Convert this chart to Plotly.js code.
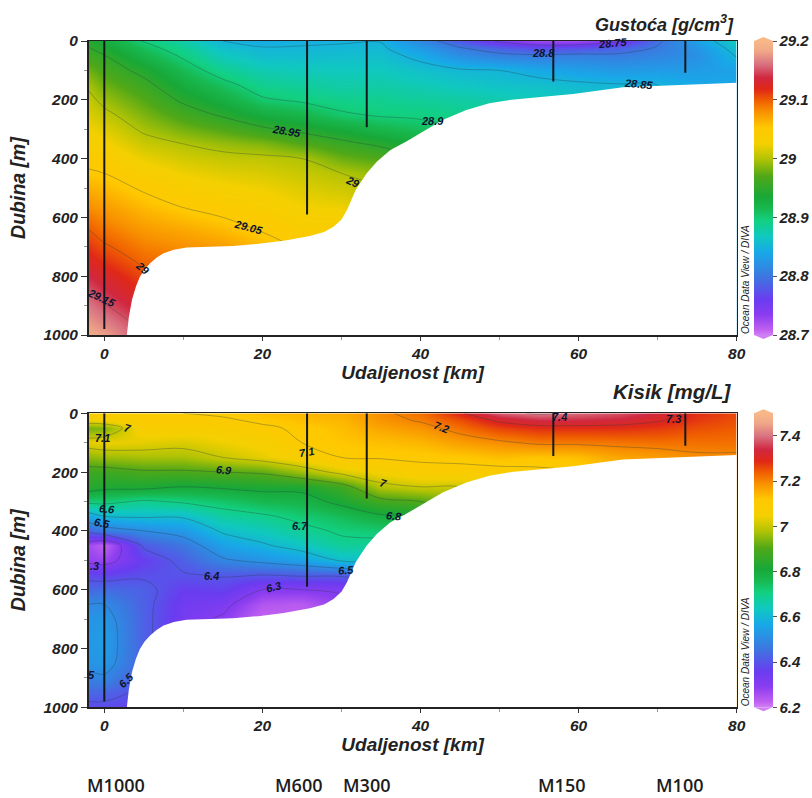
<!DOCTYPE html>
<html><head><meta charset="utf-8">
<script src="https://cdn.plot.ly/plotly-3.0.1.min.js"></script>
<style>html,body{margin:0;padding:0;background:#fff}#c{width:812px;height:798px}</style>
</head><body><div id="c"></div>
<script>
const distanceKm=[-2,0,5,10,15,20,25,30,35,40,45,50,55,60,65,70,75,80];
const depthM=[0,25,50,100,150,200,250,300,350,400,450,500,550,600,650,700,750,800,850,900,950,1000];
const densityByDistance=[
[28.945,28.952,28.961,28.979,28.996,29.007,29.016,29.025,29.034,29.043,29.053,29.065,29.077,29.09,29.102,29.114,29.126,29.138,29.151,29.163,29.175,29.187],
[28.93,28.94,28.951,28.965,28.979,28.993,29.006,29.017,29.028,29.039,29.05,29.06,29.071,29.081,29.092,29.103,29.115,29.128,29.14,29.152,29.165,29.18],
[28.898,28.91,28.921,28.942,28.958,28.971,28.984,28.996,29.009,29.022,29.034,29.047,29.057,29.067,29.077,29.087,29.096,29.106,29.117,29.128,29.14,29.15],
[28.878,28.887,28.896,28.913,28.929,28.945,28.963,28.981,29.0,29.012,29.023,29.035,29.046,29.058,29.07,29.08,29.09,29.1,29.11,29.12,29.13,29.14],
[28.85,28.86,28.869,28.888,28.908,28.927,28.946,28.969,28.992,29.007,29.017,29.028,29.039,29.05,29.062,29.074,29.085,29.095,29.105,29.115,29.125,29.135],
[28.842,28.852,28.858,28.873,28.888,28.903,28.929,28.954,28.985,29.005,29.014,29.023,29.032,29.041,29.05,29.06,29.07,29.08,29.09,29.1,29.11,29.12],
[28.846,28.852,28.857,28.87,28.883,28.896,28.919,28.943,28.971,29.0,29.008,29.016,29.023,29.031,29.039,29.047,29.055,29.06,29.065,29.07,29.075,29.08],
[28.848,28.853,28.858,28.868,28.878,28.89,28.903,28.931,28.957,28.979,29.0,29.01,29.02,29.03,29.04,29.045,29.05,29.05,29.05,29.05,29.05,29.05],
[28.849,28.854,28.859,28.868,28.878,28.888,28.897,28.918,28.945,28.97,28.99,29.0,29.01,29.02,29.03,29.04,29.04,29.04,29.04,29.04,29.04,29.04],
[28.815,28.83,28.843,28.86,28.872,28.884,28.895,28.91,28.93,28.95,28.97,28.98,28.99,29.0,29.0,29.0,29.0,29.0,29.0,29.0,29.0,29.0],
[28.78,28.803,28.82,28.853,28.866,28.88,28.89,28.9,28.91,28.92,28.93,28.94,28.95,28.95,28.95,28.95,28.95,28.95,28.95,28.95,28.95,28.95],
[28.745,28.785,28.808,28.85,28.862,28.875,28.885,28.89,28.9,28.91,28.92,28.92,28.92,28.92,28.92,28.92,28.92,28.92,28.92,28.92,28.92,28.92],
[28.725,28.77,28.805,28.84,28.86,28.87,28.88,28.89,28.9,28.9,28.9,28.9,28.9,28.9,28.9,28.9,28.9,28.9,28.9,28.9,28.9,28.9],
[28.725,28.775,28.808,28.833,28.855,28.865,28.875,28.88,28.88,28.88,28.88,28.88,28.88,28.88,28.88,28.88,28.88,28.88,28.88,28.88,28.88,28.88],
[28.745,28.785,28.806,28.828,28.852,28.86,28.87,28.87,28.87,28.87,28.87,28.87,28.87,28.87,28.87,28.87,28.87,28.87,28.87,28.87,28.87,28.87],
[28.795,28.803,28.812,28.83,28.85,28.855,28.86,28.86,28.86,28.86,28.86,28.86,28.86,28.86,28.86,28.86,28.86,28.86,28.86,28.86,28.86,28.86],
[28.835,28.825,28.82,28.83,28.84,28.84,28.84,28.84,28.84,28.84,28.84,28.84,28.84,28.84,28.84,28.84,28.84,28.84,28.84,28.84,28.84,28.84],
[28.87,28.86,28.852,28.835,28.84,28.84,28.84,28.84,28.84,28.84,28.84,28.84,28.84,28.84,28.84,28.84,28.84,28.84,28.84,28.84,28.84,28.84]];
const oxygenByDistance=[
[7.07,7.04,6.93,7.03,6.95,6.87,6.84,6.72,6.56,6.42,6.26,6.28,6.38,6.43,6.5,6.52,6.53,6.53,6.52,6.48,6.43,6.38],
[7.08,7.05,6.94,7.04,6.96,6.87,6.82,6.72,6.6,6.46,6.22,6.27,6.37,6.44,6.5,6.53,6.54,6.54,6.53,6.49,6.43,6.38],
[7.09,7.09,7.07,7.03,6.97,6.89,6.82,6.69,6.61,6.5,6.41,6.36,6.39,6.42,6.42,6.42,6.42,6.42,6.42,6.4,6.38,6.36],
[7.1,7.09,7.07,7.02,6.97,6.89,6.8,6.71,6.61,6.53,6.46,6.42,6.395,6.36,6.34,6.33,6.33,6.33,6.33,6.33,6.33,6.33],
[7.11,7.09,7.07,7.04,7.0,6.9,6.81,6.73,6.67,6.61,6.55,6.49,6.405,6.37,6.32,6.29,6.29,6.29,6.29,6.29,6.29,6.29],
[7.13,7.11,7.09,7.06,7.03,6.91,6.82,6.76,6.69,6.64,6.59,6.52,6.4,6.3,6.24,6.21,6.21,6.21,6.21,6.21,6.21,6.21],
[7.14,7.13,7.11,7.1,7.07,6.96,6.82,6.77,6.72,6.68,6.63,6.55,6.41,6.3,6.23,6.22,6.22,6.22,6.22,6.22,6.22,6.22],
[7.15,7.14,7.13,7.12,7.1,7.02,6.87,6.82,6.75,6.71,6.68,6.61,6.41,6.31,6.28,6.28,6.28,6.28,6.28,6.28,6.28,6.28],
[7.19,7.18,7.16,7.13,7.105,7.05,6.98,6.88,6.79,6.72,6.68,6.62,6.45,6.35,6.35,6.35,6.35,6.35,6.35,6.35,6.35,6.35],
[7.22,7.205,7.18,7.14,7.11,7.08,7.0,6.9,6.8,6.72,6.68,6.62,6.5,6.4,6.4,6.4,6.4,6.4,6.4,6.4,6.4,6.4],
[7.29,7.25,7.22,7.17,7.115,7.08,7.0,6.95,6.9,6.85,6.8,6.8,6.8,6.8,6.8,6.8,6.8,6.8,6.8,6.8,6.8,6.8],
[7.38,7.31,7.26,7.19,7.13,7.08,7.05,7.0,7.0,7.0,7.0,7.0,7.0,7.0,7.0,7.0,7.0,7.0,7.0,7.0,7.0,7.0],
[7.41,7.34,7.28,7.21,7.12,7.09,7.06,7.05,7.05,7.05,7.05,7.05,7.05,7.05,7.05,7.05,7.05,7.05,7.05,7.05,7.05,7.05],
[7.39,7.34,7.28,7.21,7.13,7.1,7.08,7.05,7.05,7.05,7.05,7.05,7.05,7.05,7.05,7.05,7.05,7.05,7.05,7.05,7.05,7.05],
[7.37,7.33,7.28,7.215,7.16,7.12,7.1,7.08,7.08,7.08,7.08,7.08,7.08,7.08,7.08,7.08,7.08,7.08,7.08,7.08,7.08,7.08],
[7.33,7.305,7.27,7.22,7.17,7.14,7.12,7.1,7.1,7.1,7.1,7.1,7.1,7.1,7.1,7.1,7.1,7.1,7.1,7.1,7.1,7.1],
[7.28,7.27,7.25,7.22,7.19,7.16,7.14,7.12,7.12,7.12,7.12,7.12,7.12,7.12,7.12,7.12,7.12,7.12,7.12,7.12,7.12,7.12],
[7.26,7.25,7.24,7.22,7.19,7.17,7.15,7.13,7.13,7.13,7.13,7.13,7.13,7.13,7.13,7.13,7.13,7.13,7.13,7.13,7.13,7.13]];
const seabedKm=[2.85,3.1,3.5,4,4.5,5.1,5.8,6.6,7.5,8.8,10.4,13,16.3,19.5,22.7,26,27.8,29,30,30.7,31.3,31.8,32.5,33.2,34.5,36.2,38.2,40.3,42.8,45.8,48.7,51.5,55,59.3,65.6,72,80,80,2.85];
const seabedM=[1000,940,880,835,802,776,756,737,722,710,702,700,697,690,679,663,650,632,607,575,540,507,478,450,410,371,342,308,269,235,212,200,191,180,157,150,142,1000,1000];
const stationKm=[0,25.65,33.2,56.8,73.5];
const stationNames=["M1000","M600","M300","M150","M100"];
const stationNamePx=[116,298,366,561,679];
const stationDepthTop=[980,590,293,138,108];
const stationDepthBottom=[980,590,290,145,110];
const densityLabels=[["28.95",23,305,10],["29",31.5,478,25],["29.05",18.2,631,15],["29",4.85,771,40],["29.15",-0.3,873,25],["28.8",55.5,42,0],["28.75",64.3,8,-5],["28.85",67.6,147,5],["28.9",41.5,271,0]];
const oxygenLabels=[["7",2.9,51,15],["7.1",-0.2,83,0],["7.1",25.6,131,-10],["6.9",15.1,193,5],["7",35.3,236,15],["6.6",0.4,325,5],["6.5",-0.3,374,10],["6.7",24.8,382,0],["6.8",36.6,351,5],[".3",-1.2,521,0],["6.5",30.6,533,-5],["6.4",13.6,553,0],["6.3",21.4,592,-15],["5",-1.6,890,0],["6.5",2.8,907,-45],["7.2",42.6,45,20],["7.3",72,20,0],["7.4",57.6,14,0]];
const colorStops=[[0,"#d080f4"],[0.017,"#c060f0"],[0.07,"#8a3cf0"],[0.12,"#6a3cf0"],[0.2,"#3c78e0"],[0.28,"#18a8e8"],[0.335,"#10c8c0"],[0.39,"#12d080"],[0.43,"#18b850"],[0.47,"#18a838"],[0.54,"#50a818"],[0.6,"#b4c404"],[0.65,"#f4d000"],[0.706,"#ffc800"],[0.76,"#f89000"],[0.797,"#f06000"],[0.836,"#e02818"],[0.875,"#d02840"],[0.92,"#d87080"],[0.966,"#f0a888"],[1,"#f8b888"]];

const W=812,H=798;
const transpose=c=>c[0].map((_,i)=>c.map(r=>r[i]));
const font={family:'"Liberation Sans",Arial,sans-serif',weight:'bold',style:'italic',color:'#222'};
const tf={...font,size:15.5};
const cbf={...font,size:15};
const titleF={...font,size:19.5};
const panels=[
 {z:transpose(densityByDistance),zmin:28.7,zmax:29.2,ticks:[28.7,28.8,28.9,29,29.1,29.2],step:0.05,start:28.75,end:29.15,top:41,bot:335,tops:stationDepthTop,labels:densityLabels,xa:'x',ya:'y',xn:'xaxis',yn:'yaxis',title:'Gustoća [g/cm<sup>3</sup>]',tx:736,ty:23,ts:18,cbBot:335,cbLen:294},
 {z:transpose(oxygenByDistance),zmin:6.2,zmax:7.5,ticks:[6.2,6.4,6.6,6.8,7,7.2,7.4],step:0.1,start:6.3,end:7.4,top:413.3,bot:707.3,tops:stationDepthBottom,labels:oxygenLabels,xa:'x2',ya:'y2',xn:'xaxis2',yn:'yaxis2',title:'Kisik [mg/L]',tx:733,ty:391,ts:20.5,cbBot:707.3,cbLen:294}
];
const traces=[],annotations=[],shapes=[];
const layout={width:W,height:H,margin:{l:0,r:0,t:0,b:0,pad:0,autoexpand:false},paper_bgcolor:'#fff',plot_bgcolor:'#fff',showlegend:false,annotations,shapes};
const px=x=>x/W, py=y=>1-y/H;
panels.forEach((p,i)=>{
 traces.push({type:'heatmap',x:distanceKm,y:depthM,z:p.z,zmin:p.zmin,zmax:p.zmax,zsmooth:'best',colorscale:colorStops,xaxis:p.xa,yaxis:p.ya,hoverinfo:'skip',
  colorbar:{xref:'container',yref:'container',x:754/W,xanchor:'left',xpad:0,ypad:0,y:1-p.cbBot/H,yanchor:'bottom',len:p.cbLen,lenmode:'pixels',thickness:19,thicknessmode:'pixels',outlinewidth:0,tickmode:'array',tickvals:p.ticks,ticktext:p.ticks.map(String),ticks:'outside',ticklen:4,tickcolor:'#555',tickfont:cbf}});
 traces.push({type:'contour',x:distanceKm,y:depthM,z:p.z,showscale:false,autocontour:false,contours:{coloring:'none',start:p.start,end:p.end,size:p.step,showlabels:false},line:{color:'rgba(40,60,70,0.55)',width:0.6,smoothing:1},xaxis:p.xa,yaxis:p.ya,hoverinfo:'skip'});
 traces.push({type:'scatter',mode:'lines',x:seabedKm,y:seabedM,fill:'toself',fillcolor:'#fff',line:{color:'#fff',width:0},xaxis:p.xa,yaxis:p.ya,hoverinfo:'skip'});
 stationKm.forEach((k,j)=>traces.push({type:'scatter',mode:'lines',x:[k,k],y:[0,p.tops[j]],line:{color:'#14181c',width:2},xaxis:p.xa,yaxis:p.ya,hoverinfo:'skip'}));
 layout[p.xn]={domain:[px(88.5),px(736.7)],range:[-2,80],anchor:p.ya,tickvals:[0,20,40,60,80],ticktext:['0','20','40','60','80'],tickfont:tf,ticks:'outside',ticklen:4,tickcolor:'#333',showgrid:false,zeroline:false,showline:true,mirror:true,linecolor:'#222',linewidth:1.5,minor:{tickvals:[10,30,50,70],ticks:'outside',ticklen:3,tickcolor:'#999',showgrid:false},
  title:{text:'Udaljenost [km]',font:{...titleF,size:19},standoff:3}};
 layout[p.yn]={domain:[py(p.bot),py(p.top)],range:[1000,0],anchor:p.xa,tickvals:[0,200,400,600,800,1000],ticktext:['0','200','400','600','800','1000'],tickfont:tf,ticks:'outside',ticklen:6,tickcolor:'#333',showgrid:false,zeroline:false,showline:true,mirror:true,linecolor:'#222',linewidth:1.5,minor:{tickvals:[100,300,500,700,900],ticks:'outside',ticklen:3,tickcolor:'#999',showgrid:false},
  title:{text:'Dubina [m]',font:titleF,standoff:12}};
 p.labels.forEach(l=>annotations.push({xref:p.xa,yref:p.ya,x:l[1],y:l[2],text:l[0],showarrow:false,textangle:l[3],font:{...font,size:11,color:'#0d1430'},xanchor:'center',yanchor:'middle'}));
 annotations.push({xref:'paper',yref:'paper',x:px(p.tx),y:py(p.ty),text:p.title,showarrow:false,xanchor:'right',yanchor:'middle',font:{...font,size:p.ts}});
 annotations.push({xref:'paper',yref:'paper',x:px(745),y:py(p.bot-55),text:'Ocean Data View / DIVA',showarrow:false,textangle:-90,xanchor:'center',yanchor:'middle',font:{...font,weight:'normal',size:10}});
 shapes.push({type:'path',xref:'paper',yref:'paper',path:`M${px(754)},${py(p.top)} L${px(763.5)},${py(p.top-4)} L${px(773)},${py(p.top)} Z`,fillcolor:colorStops[colorStops.length-1][1],line:{width:0}});
 shapes.push({type:'path',xref:'paper',yref:'paper',path:`M${px(754)},${py(p.bot)} L${px(763.5)},${py(p.bot+4)} L${px(773)},${py(p.bot)} Z`,fillcolor:colorStops[0][1],line:{width:0}});
});
stationNames.forEach((n,i)=>annotations.push({xref:'paper',yref:'paper',x:px(stationNamePx[i]),y:py(785),text:n,showarrow:false,xanchor:'center',yanchor:'middle',borderpad:0,font:{family:'"Open Sans",sans-serif',weight:600,size:18,color:'#1c1c1c'}}));
Plotly.newPlot('c',traces,layout,{displayModeBar:false,staticPlot:true});
</script></body></html>
